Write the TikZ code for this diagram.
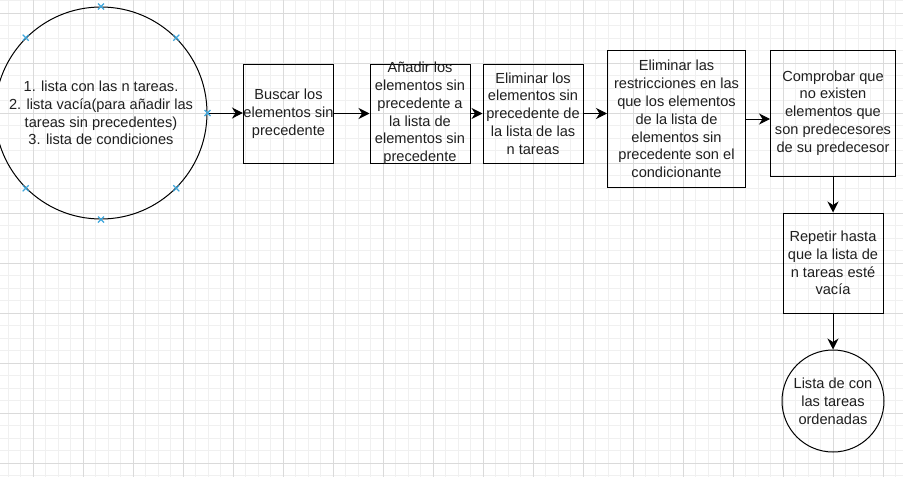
\documentclass[tikz,border=0pt]{standalone}
\usepackage{fontspec}
\setmainfont{Liberation Sans}
\usetikzlibrary{arrows.meta,positioning}

\definecolor{gridmajor}{HTML}{DADADA}
\definecolor{gridminor}{HTML}{F0F0F0}
\definecolor{conblue}{HTML}{3FA7DC}

\begin{document}
\begin{tikzpicture}[x=1pt, y=-1pt,
		every node/.style={font=\fontsize{14.6}{17.8}\selectfont, align=center, inner sep=0pt, text=black!88},
		stepbox/.style={draw, line width=1pt, rectangle},
		endcircle/.style={draw, line width=1pt, circle},
		flow/.style={draw, line width=1pt, -{Stealth[length=11pt, width=11pt, inset=3.5pt]}},
		conpt/.style={draw=conblue, line width=1.1pt}]

		% Background and grid
		\useasboundingbox (0,0) rectangle (903,477);
		\fill[white] (0,0) rectangle (903,477);
		\foreach \gx in {-4.2,8.3,...,903} \draw[gridminor, line width=0.8pt] (\gx,0) -- (\gx,477);
		\foreach \gy in {0.8,13.3,...,477} \draw[gridminor, line width=0.8pt] (0,\gy) -- (903,\gy);
		\foreach \gx in {33.3,83.3,...,903} \draw[gridmajor, line width=0.8pt] (\gx,0) -- (\gx,477);
		\foreach \gy in {13.3,63.3,...,477} \draw[gridmajor, line width=0.8pt] (0,\gy) -- (903,\gy);

		% Nodes
		\node (start) [endcircle, minimum size=212pt] at (101,113)
			{1. lista con las n tareas.\\ 2. lista vacía(para añadir las\\ tareas sin precedentes)\\ 3. lista de condiciones};
		\node (buscar) [stepbox, minimum width=87pt, minimum height=99pt] at (288.5,113.5)
			{Buscar los\\ elementos sin\\ precedente};
		\node (anadir) [stepbox, minimum width=100pt, minimum height=99pt] at (420,113.5) {};
		\node (anadirtxt) at (anadir.center)
			{Añadir los\\ elementos sin\\ precedente a\\ la lista de\\ elementos sin\\ precedente};
		\node (eliminar) [stepbox, minimum width=100pt, minimum height=99pt] at (533,113.5)
			{Eliminar los\\ elementos sin\\ precedente de\\ la lista de las\\ n tareas};
		\node (restric) [stepbox, minimum width=138pt, minimum height=137pt] at (676.5,119)
			{Eliminar las\\ restricciones en las\\ que los elementos\\ de la lista de\\ elementos sin\\ precedente son el\\ condicionante};
		\node (comprobar) [stepbox, minimum width=125pt, minimum height=126pt] at (833,113)
			{Comprobar que\\ no existen\\ elementos que\\ son predecesores\\ de su predecesor};
		\node (repetir) [stepbox, minimum width=100pt, minimum height=100pt] at (833,263)
			{Repetir hasta\\ que la lista de\\ n tareas esté\\ vacía};
		\node (fin) [endcircle, minimum size=102pt] at (833,401)
			{Lista de con\\ las tareas\\ ordenadas};

		% Edges
		\draw[flow] (start.east) -- (buscar.west |- start.east);
		\draw[flow] (buscar.east) -- (anadir.west);
		\draw[flow] (anadir.east) -- (eliminar.west);
		\draw[flow] (eliminar.east) -- (eliminar.east -| restric.west);
		\draw[flow] (restric.east) -- (restric.east -| comprobar.west);
		\draw[flow] (comprobar.south) -- (repetir.north);
		\draw[flow] (repetir.south) -- (fin.north);

		% Connection points of the selected circle
		\foreach \a in {0,45,...,315}
			\draw[conpt] (start.\a) +(-3,-3) -- +(3,3) +(-3,3) -- +(3,-3);
	\end{tikzpicture}
\end{document}
